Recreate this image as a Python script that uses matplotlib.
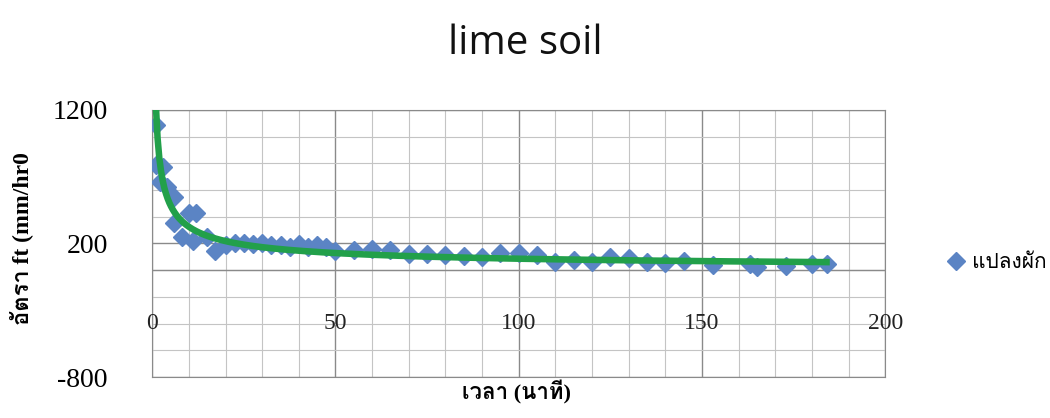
import numpy as np
import matplotlib
matplotlib.use("Agg")
import matplotlib.pyplot as plt
from matplotlib import font_manager
from matplotlib.ticker import MultipleLocator

# infiltration readings, lime soil plot
time_min = [1, 1, 2, 3, 4, 6, 6, 8, 10, 12, 11, 15, 17,
            20, 22.5, 25, 27.5, 30, 32.5, 35, 37.5, 40, 42.5, 45, 47.5,
            50, 55, 60, 65, 70, 75, 80, 85, 90, 95, 100, 105, 110, 115,
            120, 125, 130, 135, 140, 145, 153, 163, 165, 173, 180, 184]
rate_ft = [1085, 785, 660, 775, 620, 550, 355, 250, 425, 425, 220, 245, 140,
           190, 205, 200, 198, 205, 190, 185, 177, 195, 172, 185, 170,
           140, 148, 160, 153, 125, 123, 112, 105, 100, 130, 130, 115, 62, 78,
           65, 100, 95, 65, 55, 70, 38, 48, 25, 35, 45, 45]
series_name = "แปลงผัก"
x_ticks = [0, 50, 100, 150, 200]
y_ticks = [-800, 200, 1200]


def find_thai_font():
    try:
        from fontTools.ttLib import TTFont
    except ImportError:
        return None
    for f in font_manager.fontManager.ttflist:
        try:
            tt = TTFont(f.fname, fontNumber=0, lazy=True)
            if 0x0E01 in tt.getBestCmap():
                return f.name
        except Exception:
            pass
    return None


thai = find_thai_font()
serif = ["Liberation Serif"] + ([thai] if thai else []) + ["DejaVu Serif"]
sans = ["Open Sans"] + ([thai] if thai else []) + ["DejaVu Sans"]

fig = plt.figure(figsize=(10.5, 4.18), dpi=100)
ax = fig.add_axes([0.145, 0.098, 0.698, 0.639])

x = np.array(time_min, dtype=float)
y = np.array(rate_ft, dtype=float)

# power trendline like excel (least squares in log-log)
b, loga = np.polyfit(np.log(x), np.log(y), 1)
xs = np.linspace(x.min(), x.max(), 400)
ys = np.exp(loga) * xs ** b

ax.plot(x, y, linestyle="none", marker="D", markersize=9,
        color="#5b84c4", label=series_name, zorder=3)
ax.plot(xs, ys, color="#22a04a", linewidth=4.7, zorder=4)

ax.set_xlim(0, 200)
ax.set_ylim(-800, 1200)
ax.set_xticks(x_ticks)
ax.set_yticks(y_ticks)
ax.xaxis.set_minor_locator(MultipleLocator(10))
ax.yaxis.set_minor_locator(MultipleLocator(200))
ax.grid(which="major", color="#8a8a8a", linewidth=1.0)
ax.grid(which="minor", color="#c4c4c4", linewidth=0.8)
ax.axhline(0, color="#8a8a8a", linewidth=1.0, zorder=1)
ax.set_axisbelow(True)
for s in ax.spines.values():
    s.set_color("#8a8a8a")
ax.tick_params(which="both", length=0)
ax.tick_params(axis="y", pad=32, labelsize=20)
ax.set_yticklabels([str(v) for v in y_ticks], family=serif)
ax.set_xticklabels([])
for t in x_ticks:
    ax.text(t, -400, str(t), ha="center", va="center", fontsize=17,
            family=serif, color="#222222")

fig.text(0.02, 0.43, "อัตรา ft (mm/hr0", rotation=90, ha="center",
         va="center", fontsize=17, fontweight="bold", family=serif)
fig.text(0.492, 0.062, "เวลา (นาที)", ha="center", va="center",
         fontsize=16, fontweight="bold", family=serif)
fig.text(0.5, 0.896, "lime soil", ha="center", va="center", fontsize=29,
         family=sans, color="#111111")

leg = ax.legend(loc="center left", bbox_to_anchor=(1.085, 0.427),
                frameon=False, prop={"family": sans, "size": 15},
                handlelength=0.8, handletextpad=0.4, borderaxespad=0,
                borderpad=0)

fig.savefig("out.png", dpi=100)
